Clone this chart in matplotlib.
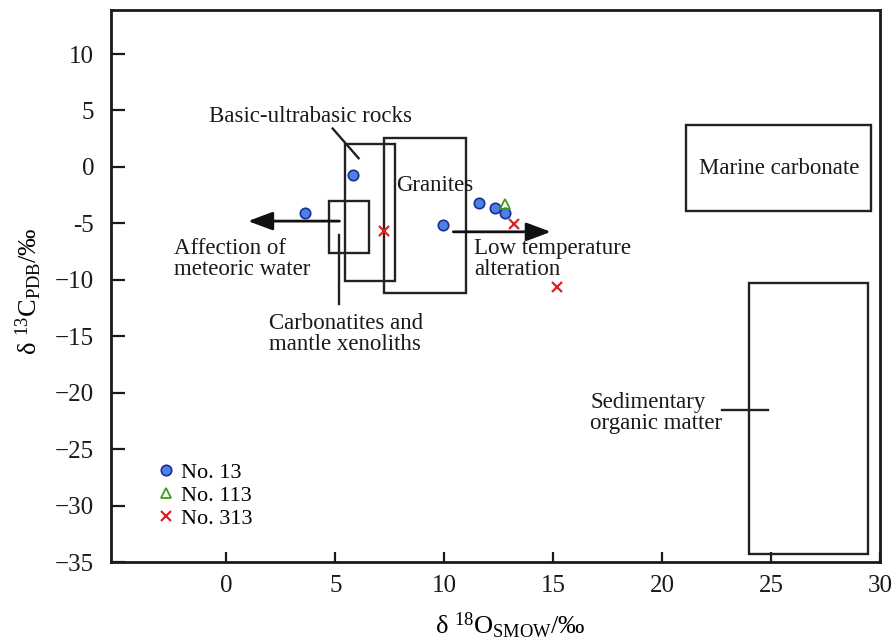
import matplotlib
matplotlib.use("Agg")
import matplotlib.pyplot as plt
from matplotlib.patches import Rectangle

plt.rcParams['font.family'] = ['Liberation Serif', 'DejaVu Serif']
plt.rcParams['mathtext.fontset'] = 'custom'
plt.rcParams['mathtext.rm'] = 'Liberation Serif'
plt.rcParams['mathtext.it'] = 'Liberation Serif:italic'

# Data
no13_x = [3.63, 5.83, 9.93, 11.61, 12.32, 12.79]
no13_y = [-4.09, -0.71, -5.18, -3.22, -3.61, -4.11]
no113_x = [12.79]
no113_y = [-3.3]
no313_x = [7.22, 13.2, 15.2]
no313_y = [-5.68, -5.09, -10.6]

# Reference fields: (x0, x1, y0, y1)
box_basic = (5.43, 7.75, -10.1, 2.0)
box_granite = (7.22, 11.0, -11.2, 2.6)
box_carbonatite = (4.7, 6.56, -7.6, -3.05)
box_marine = (21.09, 29.6, -3.9, 3.73)
box_sediment = (24.0, 29.45, -34.3, -10.27)

xticks = [0, 5, 10, 15, 20, 25, 30]
yticks = [10, 5, 0, -5, -10, -15, -20, -25, -30, -35]
ytick_labels = ['10', '5', '0', '-5', '\u221210', '\u221215', '\u221220', '\u221225', '\u221230', '\u221235']

fig = plt.figure(figsize=(8.95, 6.42), dpi=100)
ax = fig.add_axes([0.124, 0.1246, 0.859, 0.8598])

for b in [box_basic, box_granite, box_carbonatite, box_marine, box_sediment]:
    ax.add_patch(Rectangle((b[0], b[2]), b[1] - b[0], b[3] - b[2], fill=False,
                           edgecolor='#222222', linewidth=1.7, zorder=2))

# leader lines
ax.plot([4.88, 6.07], [3.4, 0.77], color='#222222', lw=1.7, zorder=2)
ax.plot([5.19, 5.19], [-6.0, -12.1], color='#222222', lw=1.7, zorder=2)
ax.plot([22.74, 24.85], [-21.5, -21.5], color='#222222', lw=1.7, zorder=2)

# arrows
arrow_kw = dict(arrowstyle='-|>,head_length=0.75,head_width=0.28', lw=2.0,
                color='#111111', shrinkA=0, shrinkB=0, mutation_scale=20)
ax.annotate('', xy=(0.99, -4.8), xytext=(5.19, -4.8), arrowprops=arrow_kw, zorder=3)
ax.annotate('', xy=(14.9, -5.75), xytext=(10.42, -5.75), arrowprops=arrow_kw, zorder=3)

# data
ax.plot(no13_x, no13_y, 'o', ms=7.5, mfc='#4d7fe6', mec='#1b2f8f', mew=1.2,
        ls='none', label='No. 13', zorder=4)
ax.plot(no113_x, no113_y, '^', ms=7, mfc='none', mec='#3d9b1c', mew=1.3,
        ls='none', label='No. 113', zorder=4)
ax.plot(no313_x, no313_y, 'x', ms=7, mec='#e02020', mew=1.6,
        ls='none', label='No. 313', zorder=4)

fs = 16.5
tc = '#1a1a1a'
ax.text(3.87, 4.44, 'Basic-ultrabasic rocks', fontsize=fs, ha='center', va='center', color=tc)
ax.text(9.56, -1.69, 'Granites', fontsize=fs, ha='center', va='center', color=tc)
ax.text(-2.41, -8.2, 'Affection of\nmeteoric water', fontsize=fs, ha='left', va='center',
        color=tc, linespacing=1.0)
ax.text(11.37, -8.2, 'Low temperature\nalteration', fontsize=fs, ha='left', va='center',
        color=tc, linespacing=1.0)
ax.text(1.97, -14.8, 'Carbonatites and\nmantle xenoliths', fontsize=fs, ha='left', va='center',
        color=tc, linespacing=1.0)
ax.text(25.4, -0.15, 'Marine carbonate', fontsize=fs, ha='center', va='center', color=tc)
ax.text(16.7, -21.8, 'Sedimentary\norganic matter', fontsize=fs, ha='left', va='center',
        color=tc, linespacing=1.0)

ax.set_xlim(-5.3, 30)
ax.set_ylim(-35, 13.9)
ax.set_xticks(xticks)
ax.set_xticklabels([str(v) for v in xticks])
ax.set_yticks(yticks)
ax.set_yticklabels(ytick_labels)
ax.tick_params(axis='x', direction='in', length=7, width=1.6, labelsize=18, pad=9, colors='#1a1a1a')
ax.tick_params(axis='y', direction='in', length=10, width=1.6, labelsize=18, pad=12, colors='#1a1a1a')
for s in ax.spines.values():
    s.set_linewidth(2.0)
    s.set_color('#1a1a1a')

ax.set_xlabel('δ $^{18}\\mathrm{O}_{\\mathrm{SMOW}}$/‰', fontsize=19)
ax.set_ylabel('δ $^{13}\\mathrm{C}_{\\mathrm{PDB}}$/‰', fontsize=19)
ax.xaxis.set_label_coords(0.519, -0.088)
ax.yaxis.set_label_coords(-0.087, 0.49)

ax.legend(loc='upper left', bbox_to_anchor=(0.05, 0.197), frameon=False, fontsize=16,
          handlelength=0.7, handletextpad=0.3, labelspacing=0.12, borderaxespad=0)

fig.savefig('out.png', dpi=100)
